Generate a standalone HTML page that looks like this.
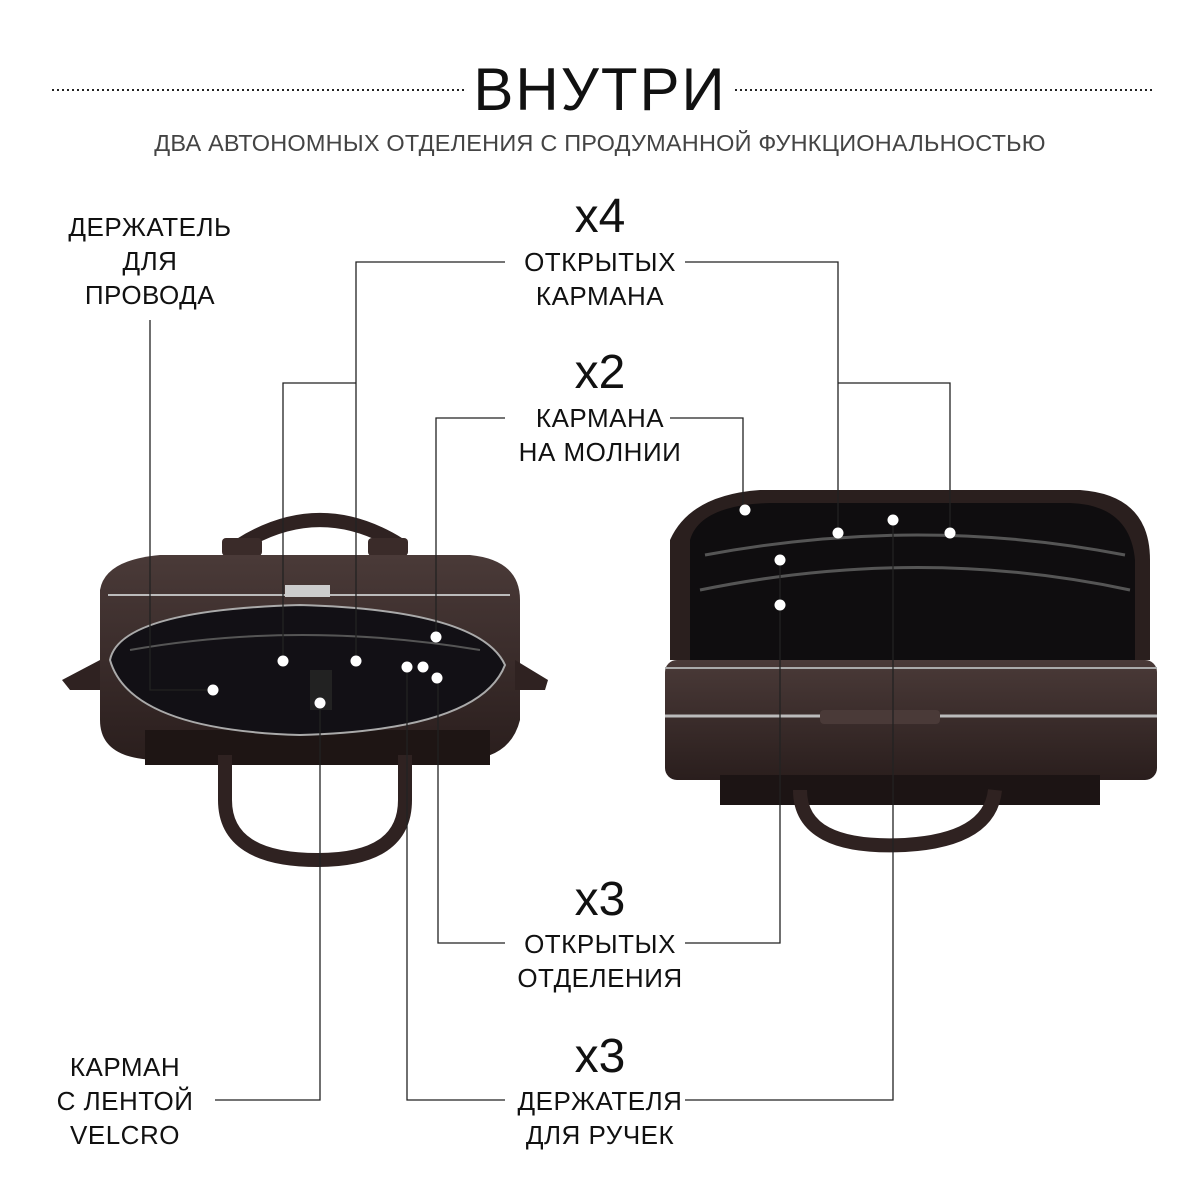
<!DOCTYPE html>
<html><head><meta charset="utf-8"><style>
body{margin:0;width:1200px;height:1200px;background:#fff;overflow:hidden;font-family:"Liberation Sans",sans-serif;}
.t{position:absolute;text-align:center;color:#111;}
.lab{font-size:26px;line-height:34px;letter-spacing:0.5px;}
.big{font-size:48px;line-height:50px;}
</style></head><body>
<svg width="1200" height="1200" style="position:absolute;left:0;top:0">
<line x1="52" y1="90" x2="465" y2="90" stroke="#222" stroke-width="2" stroke-dasharray="2,3"/>
<line x1="735" y1="90" x2="1155" y2="90" stroke="#222" stroke-width="2" stroke-dasharray="2,3"/>
<defs>
<linearGradient id="lth" x1="0" y1="0" x2="0" y2="1"><stop offset="0" stop-color="#4a3a38"/><stop offset="1" stop-color="#2a1e1d"/></linearGradient>
</defs>
<g>
<path d="M240 545 Q320 495 400 545" fill="none" stroke="#2f2221" stroke-width="14"/>
<rect x="222" y="538" width="40" height="18" rx="4" fill="#3a2b29"/>
<rect x="368" y="538" width="40" height="18" rx="4" fill="#3a2b29"/>
<path d="M100 590 Q105 560 160 555 L470 555 Q520 560 520 600 L520 720 Q510 760 460 760 L160 760 Q100 760 100 720 Z" fill="url(#lth)"/>
<rect x="145" y="730" width="345" height="35" fill="#1e1514"/>
<path d="M62 680 L100 660 L100 690 L70 690 Z" fill="#2f2221"/>
<path d="M548 680 L515 660 L515 690 L545 690 Z" fill="#2f2221"/>
<path d="M108 595 L510 595" stroke="#bbb" stroke-width="2"/>
<path d="M110 660 Q120 610 300 605 Q480 610 505 665 Q480 730 300 735 Q130 730 110 660 Z" fill="#121015" stroke="#aaa" stroke-width="2"/>
<path d="M130 650 Q300 620 480 650" fill="none" stroke="#555" stroke-width="2"/>
<rect x="310" y="670" width="22" height="40" fill="#222"/>
<path d="M225 755 L225 800 Q225 860 318 860 Q405 860 405 800 L405 755" fill="none" stroke="#2f2221" stroke-width="14"/>
<rect x="285" y="585" width="45" height="12" fill="#ccc"/>
</g>
<g>
<path d="M670 540 Q690 495 760 490 L1080 490 Q1150 495 1150 560 L1150 660 L670 660 Z" fill="#2a1f1e"/>
<path d="M690 540 Q700 505 770 503 L1070 503 Q1130 505 1135 560 L1135 660 L690 660 Z" fill="#0f0d0f"/>
<path d="M700 590 Q920 545 1130 590" fill="none" stroke="#555" stroke-width="3"/>
<path d="M705 555 Q920 515 1125 555" fill="none" stroke="#555" stroke-width="3"/>
<rect x="665" y="660" width="492" height="120" rx="12" fill="url(#lth)"/>
<line x1="665" y1="668" x2="1157" y2="668" stroke="#aaa" stroke-width="2"/>
<line x1="665" y1="716" x2="1157" y2="716" stroke="#bbb" stroke-width="3"/>
<rect x="820" y="710" width="120" height="14" rx="4" fill="#4a3a38"/>
<rect x="720" y="775" width="380" height="30" fill="#1c1414"/>
<path d="M800 790 Q800 850 905 845 Q990 840 995 790" fill="none" stroke="#2f2221" stroke-width="14"/>
</g>
<g stroke="#222" stroke-width="1.3" fill="none">
<polyline points="150,320 150,690 213,690"/>
<polyline points="505,262 356,262 356,661"/>
<polyline points="356,383 283,383 283,661"/>
<polyline points="685,262 838,262 838,533"/>
<polyline points="838,383 950,383 950,533"/>
<polyline points="505,418 436,418 436,637"/>
<polyline points="670,418 743,418 743,510"/>
<polyline points="505,943 438,943 438,678"/>
<polyline points="685,943 780,943 780,560"/>
<polyline points="505,1100 407,1100 407,667"/>
<polyline points="685,1100 893,1100 893,520"/>
<polyline points="215,1100 320,1100 320,703"/>
</g>
<g fill="#fff">
<circle cx="283" cy="661" r="5.5"/><circle cx="356" cy="661" r="5.5"/><circle cx="436" cy="637" r="5.5"/>
<circle cx="407" cy="667" r="5.5"/><circle cx="423" cy="667" r="5.5"/><circle cx="437" cy="678" r="5.5"/>
<circle cx="213" cy="690" r="5.5"/><circle cx="320" cy="703" r="5.5"/>
<circle cx="745" cy="510" r="5.5"/><circle cx="838" cy="533" r="5.5"/><circle cx="893" cy="520" r="5.5"/>
<circle cx="950" cy="533" r="5.5"/><circle cx="780" cy="560" r="5.5"/><circle cx="780" cy="605" r="5.5"/>
</g>
</svg>
<div class="t" style="left:400px;top:56px;width:400px;font-size:60px;line-height:68px;letter-spacing:2px;font-weight:300;">ВНУТРИ</div>
<div class="t" style="left:0;top:130px;width:1200px;font-size:23.5px;color:#444;letter-spacing:0.2px;">ДВА АВТОНОМНЫХ ОТДЕЛЕНИЯ С ПРОДУМАННОЙ ФУНКЦИОНАЛЬНОСТЬЮ</div>
<div class="t lab" style="left:40px;top:210px;width:220px;">ДЕРЖАТЕЛЬ<br>ДЛЯ<br>ПРОВОДА</div>
<div class="t big" style="left:500px;top:192px;width:200px;">x4</div>
<div class="t lab" style="left:480px;top:245px;width:240px;">ОТКРЫТЫХ<br>КАРМАНА</div>
<div class="t big" style="left:500px;top:348px;width:200px;">x2</div>
<div class="t lab" style="left:480px;top:401px;width:240px;">КАРМАНА<br>НА МОЛНИИ</div>
<div class="t big" style="left:500px;top:875px;width:200px;">x3</div>
<div class="t lab" style="left:480px;top:927px;width:240px;">ОТКРЫТЫХ<br>ОТДЕЛЕНИЯ</div>
<div class="t big" style="left:500px;top:1032px;width:200px;">x3</div>
<div class="t lab" style="left:480px;top:1084px;width:240px;">ДЕРЖАТЕЛЯ<br>ДЛЯ РУЧЕК</div>
<div class="t lab" style="left:40px;top:1050px;width:170px;">КАРМАН<br>С ЛЕНТОЙ<br>VELCRO</div>
</body></html>
